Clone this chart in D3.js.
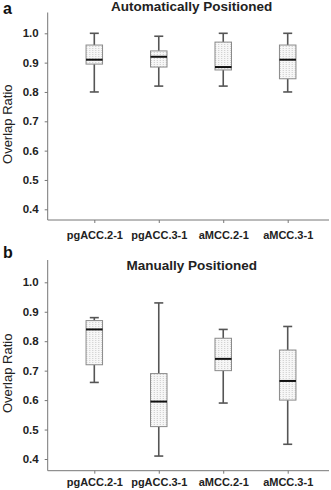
<!DOCTYPE html>
<html>
<head>
<meta charset="utf-8">
<script src="https://cdn.jsdelivr.net/npm/d3@7"></script>
<style>
  body { margin: 0; background: #fff; }
  svg { display: block; font-family: Arial, "Liberation Sans", sans-serif; }
</style>
</head>
<body>
<div id="chart"></div>
<script>
// dados
const categories = ["pgACC.2-1", "pgACC.3-1", "aMCC.2-1", "aMCC.3-1"];
const yTicks = [0.4, 0.5, 0.6, 0.7, 0.8, 0.9, 1.0];

// [min, q1, mediana, q3, max]
const autoMin    = [0.80, 0.82, 0.82, 0.80];
const autoQ1     = [0.895, 0.885, 0.875, 0.845];
const autoMedian = [0.91, 0.92, 0.885, 0.91];
const autoQ3     = [0.96, 0.94, 0.97, 0.96];
const autoMax    = [1.00, 0.99, 1.00, 1.00];

const manMin    = [0.66, 0.41, 0.59, 0.45];
const manQ1     = [0.72, 0.51, 0.70, 0.60];
const manMedian = [0.84, 0.595, 0.74, 0.665];
const manQ3     = [0.87, 0.69, 0.81, 0.77];
const manMax    = [0.88, 0.93, 0.84, 0.85];

const W = 331, H = 490;

const svg = d3.select("#chart").append("svg")
    .attr("width", W)
    .attr("height", H);

// padrão pontilhado das caixas
const pat = svg.append("defs").append("pattern")
    .attr("id", "dots")
    .attr("patternUnits", "userSpaceOnUse")
    .attr("width", 3)
    .attr("height", 2);
pat.append("rect").attr("width", 3).attr("height", 2).attr("fill", "#f7f7f7");
pat.append("rect").attr("x", 1).attr("width", 1).attr("height", 1).attr("fill", "#c8c8c8");

function makeBoxes(mins, q1s, meds, q3s, maxs) {
    return categories.map((c, i) => ({
        cat: c, min: mins[i], q1: q1s[i], med: meds[i], q3: q3s[i], max: maxs[i]
    }));
}

function drawPanel(opts) {
    const g = svg.append("g");

    const y = d3.scaleLinear()
        .domain([0.4, 1.0])
        .range([opts.y04, opts.y10]);

    const x = d3.scalePoint()
        .domain(categories)
        .range([94.3, 287.7]);

    // eixo Y
    g.append("line")
        .attr("x1", 47.7).attr("x2", 47.7)
        .attr("y1", opts.axisTop).attr("y2", opts.axisBottom)
        .attr("stroke", "#777").attr("stroke-width", 1);

    const yAxis = g.append("g")
        .attr("transform", "translate(47.7,0)")
        .call(d3.axisLeft(y).tickValues(yTicks).tickFormat(d3.format(".1f")).tickSize(3).tickPadding(6));
    yAxis.select(".domain").remove();
    yAxis.selectAll(".tick line").attr("stroke", "#777");
    yAxis.selectAll(".tick text")
        .attr("font-size", 11.5)
        .attr("font-weight", "bold")
        .attr("fill", "#222")
        .attr("font-family", "Arial, 'Liberation Sans', sans-serif");

    // eixo X
    g.append("line")
        .attr("x1", 47.7).attr("x2", 329)
        .attr("y1", opts.axisBottom).attr("y2", opts.axisBottom)
        .attr("stroke", "#777").attr("stroke-width", 1);

    const xAxis = g.append("g")
        .attr("transform", `translate(0,${opts.axisBottom})`)
        .call(d3.axisBottom(x).tickSize(3).tickPadding(opts.xPad));
    xAxis.select(".domain").remove();
    xAxis.selectAll(".tick line").attr("stroke", "#777");
    xAxis.selectAll(".tick text")
        .attr("font-size", 11)
        .attr("font-weight", "bold")
        .attr("fill", "#222")
        .attr("font-family", "Arial, 'Liberation Sans', sans-serif");

    // caixas
    const bw = 16.5, cw = 9;
    const box = g.selectAll(".box")
        .data(opts.data)
        .enter()
        .append("g")
        .attr("class", "box")
        .attr("transform", d => `translate(${x(d.cat)},0)`);

    box.append("line")
        .attr("y1", d => y(d.max)).attr("y2", d => y(d.q3))
        .attr("stroke", "#555").attr("stroke-width", 1.6);
    box.append("line")
        .attr("y1", d => y(d.q1)).attr("y2", d => y(d.min))
        .attr("stroke", "#555").attr("stroke-width", 1.6);
    box.append("line")
        .attr("x1", -cw / 2).attr("x2", cw / 2)
        .attr("y1", d => y(d.max)).attr("y2", d => y(d.max))
        .attr("stroke", "#555").attr("stroke-width", 1.6);
    box.append("line")
        .attr("x1", -cw / 2).attr("x2", cw / 2)
        .attr("y1", d => y(d.min)).attr("y2", d => y(d.min))
        .attr("stroke", "#555").attr("stroke-width", 1.6);

    box.append("rect")
        .attr("x", -bw / 2)
        .attr("width", bw)
        .attr("y", d => y(d.q3))
        .attr("height", d => y(d.q1) - y(d.q3))
        .attr("fill", "url(#dots)")
        .attr("stroke", "#8a8a8a")
        .attr("stroke-width", 1);

    box.append("line")
        .attr("x1", -bw / 2).attr("x2", bw / 2)
        .attr("y1", d => y(d.med)).attr("y2", d => y(d.med))
        .attr("stroke", "#111").attr("stroke-width", 2);

    // título
    g.append("text")
        .attr("x", 191.7)
        .attr("y", opts.titleY)
        .attr("text-anchor", "middle")
        .attr("font-size", 13.5)
        .attr("font-weight", "bold")
        .attr("fill", "#222")
        .text(opts.title);

    // letra do painel
    g.append("text")
        .attr("x", 3)
        .attr("y", opts.letterY)
        .attr("font-size", 16)
        .attr("font-weight", "bold")
        .attr("fill", "#111")
        .text(opts.letter);

    // rótulo do eixo Y
    g.append("text")
        .attr("transform", `translate(12,${(opts.axisTop + opts.axisBottom) / 2 + 8}) rotate(-90)`)
        .attr("text-anchor", "middle")
        .attr("font-size", 13)
        .attr("fill", "#222")
        .text("Overlap Ratio");
}

drawPanel({
    data: makeBoxes(autoMin, autoQ1, autoMedian, autoQ3, autoMax),
    title: "Automatically Positioned",
    letter: "a",
    y10: 33.3, y04: 209.3,
    axisTop: 12.5, axisBottom: 220,
    titleY: 10.5, letterY: 14, xPad: 8
});

drawPanel({
    data: makeBoxes(manMin, manQ1, manMedian, manQ3, manMax),
    title: "Manually Positioned",
    letter: "b",
    y10: 282.3, y04: 459,
    axisTop: 260, axisBottom: 470.7,
    titleY: 270, letterY: 258, xPad: 4.5
});
</script>
</body>
</html>
